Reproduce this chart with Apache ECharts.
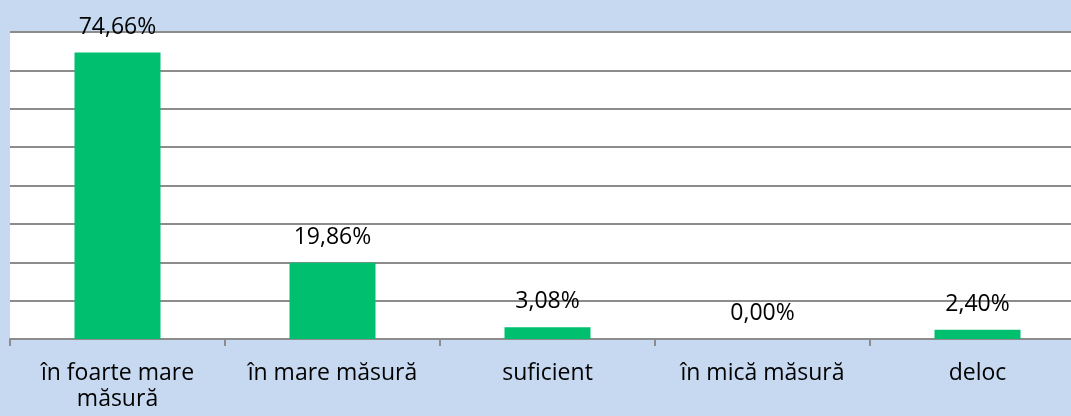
<!DOCTYPE html>
<html>
<head>
<meta charset="utf-8">
<script src="https://cdn.jsdelivr.net/npm/echarts@6/dist/echarts.min.js"></script>
<style>
  html, body { margin: 0; padding: 0; background: #c6d9f0; overflow: hidden; }
  #chart { width: 1085px; height: 416px; }
</style>
</head>
<body>
<div id="chart"></div>
<script>
// categorii si procente
const categories = ["în foarte mare măsură", "în mare măsură", "suficient", "în mică măsură", "deloc"];
const values = [74.66, 19.86, 3.08, 0.0, 2.4];
const yMax = 80;
const yStep = 10;

const myChart = echarts.init(document.getElementById("chart"));
const option = {
  backgroundColor: "#c6d9f0",
  textStyle: { fontFamily: "Open Sans" },
  grid: {
    left: 10,
    right: 0,
    top: 32,
    bottom: 77,
    show: true,
    backgroundColor: "#ffffff",
    borderWidth: 0
  },
  xAxis: {
    type: "category",
    data: categories,
    axisLine: { lineStyle: { color: "#8c8c8c", width: 2 } },
    axisTick: { show: true, length: 7, lineStyle: { color: "#8c8c8c", width: 2 } },
    axisLabel: {
      interval: 0,
      color: "#000",
      fontSize: 23,
      lineHeight: 26,
      margin: 21,
      // doar eticheta lunga se rupe pe doua randuri
      formatter: v => (v.length > 16 ? v.replace(/ (\S+)$/, "\n$1") : v)
    }
  },
  yAxis: {
    type: "value",
    min: 0,
    max: yMax,
    interval: yStep,
    axisLabel: { show: false },
    axisLine: { show: false },
    axisTick: { show: false },
    splitLine: { lineStyle: { color: "#8c8c8c", width: 2 } }
  },
  series: [
    {
      type: "bar",
      data: values,
      barWidth: 86,
      itemStyle: { color: "#00bf6f" },
      label: {
        show: true,
        position: "top",
        distance: 14,
        color: "#000",
        fontSize: 23,
        formatter: p => p.value.toFixed(2).replace(".", ",") + "%"
      }
    }
  ]
};
myChart.setOption(option);
</script>
</body>
</html>
